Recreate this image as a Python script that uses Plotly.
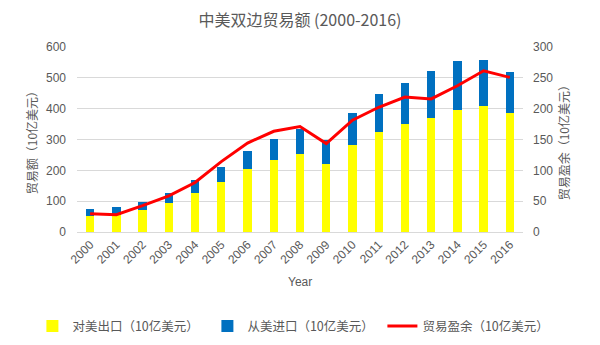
import plotly.graph_objects as go

years = [str(y) for y in range(2000, 2017)]
exports = [52.1, 54.3, 70.0, 92.5, 124.9, 162.9, 203.5, 232.7, 252.3, 220.8, 283.3, 324.5, 351.8, 368.4, 396.1, 410.2, 385.1]
imports = [22.4, 26.2, 27.2, 33.9, 44.7, 48.7, 59.2, 69.4, 81.4, 77.4, 102.0, 122.1, 132.9, 152.6, 159.0, 147.8, 134.4]
surplus = [29.7, 28.1, 42.7, 58.6, 80.3, 114.2, 144.3, 163.3, 170.9, 143.4, 181.3, 202.3, 218.9, 215.8, 237.1, 261.4, 250.7]

txt = "#595959"
cjk = "Noto Sans CJK SC"
num = "Liberation Sans"
fig = go.Figure()
fig.add_trace(go.Bar(x=years, y=exports, name="对美出口（10亿美元）", marker_color="#FFFF00", marker_line_width=0))
fig.add_trace(go.Bar(x=years, y=imports, name="从美进口（10亿美元）", marker_color="#0070C0", marker_line_width=0))
fig.add_trace(go.Scatter(x=years, y=surplus, name="贸易盈余（10亿美元）", mode="lines",
                         line=dict(color="#FF0000", width=3), yaxis="y2"))

fig.update_layout(
    width=600, height=345,
    margin=dict(l=77, r=77, t=47, b=113, autoexpand=False),
    paper_bgcolor="white", plot_bgcolor="white",
    barmode="stack", bargap=0.68,
    font=dict(family=cjk, color=txt, size=11),
    title=dict(text="中美双边贸易额 (2000-2016)", x=0.5, xanchor="center", y=0.94, yanchor="middle",
               font=dict(size=16, color=txt, family=cjk)),
    xaxis=dict(type="category", tickangle=-45, showgrid=False, showline=True, linecolor="#d9d9d9",
               linewidth=1, ticks="", automargin=False, tickfont=dict(size=12, color=txt, family=num)),
    yaxis=dict(range=[0, 600], dtick=100, showgrid=True, gridcolor="#d9d9d9", zeroline=False, automargin=False,
               tickfont=dict(size=12, color=txt, family=num), ticks="", ticklabelstandoff=10),
    yaxis2=dict(range=[0, 300], dtick=50, overlaying="y", side="right", showgrid=False, zeroline=False,
                automargin=False, tickfont=dict(size=12, color=txt, family=num), ticks="", ticklabelstandoff=9),
    legend=dict(orientation="h", x=-0.1, xanchor="left", y=-0.51, yanchor="middle",
                traceorder="normal", font=dict(size=12.5, color=txt, family=cjk),
                entrywidth=130, entrywidthmode="pixels", itemwidth=30),
    annotations=[
        dict(text="Year", x=0.5, y=-0.27, xref="paper", yref="paper", showarrow=False,
             font=dict(size=12, color=txt, family=num), yanchor="middle"),
        dict(text="贸易额（10亿美元）", x=-0.125, y=0.5, xref="paper", yref="paper", showarrow=False,
             textangle=-90, font=dict(size=12, color=txt, family=cjk)),
        dict(text="贸易盈余（10亿美元）", x=1.115, y=0.5, xref="paper", yref="paper", showarrow=False,
             textangle=-90, font=dict(size=12, color=txt, family=cjk)),
    ],
)

fig.write_html("out.html")
